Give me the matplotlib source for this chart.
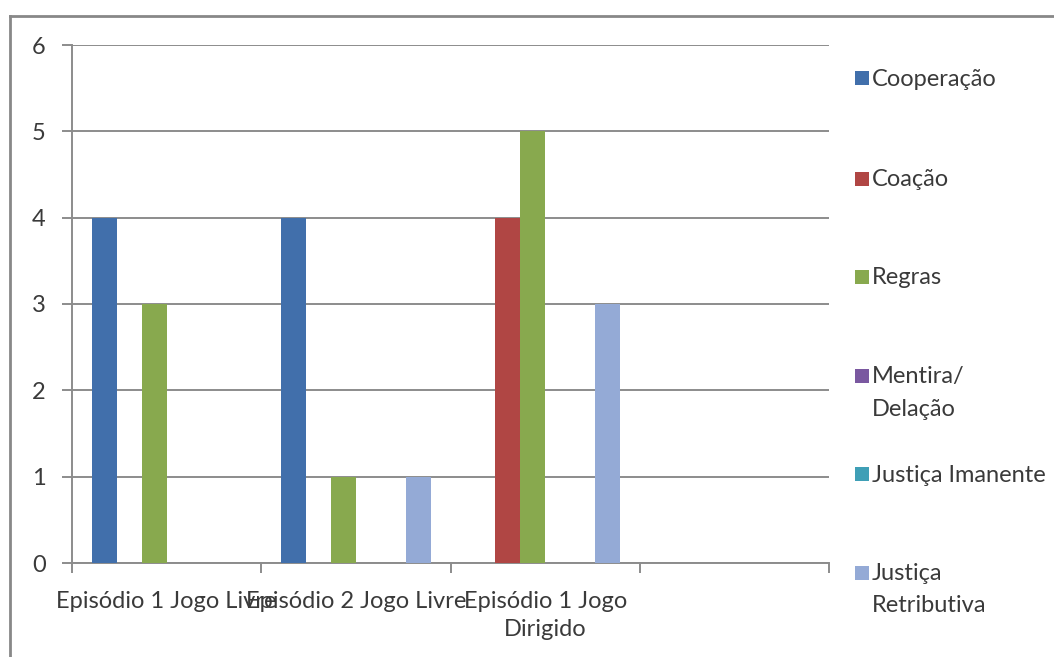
import matplotlib.pyplot as plt
from matplotlib.patches import Rectangle
from matplotlib.lines import Line2D
import numpy as np

plt.rcParams['font.family'] = ['Lato', 'DejaVu Sans']

categories = ["Episódio 1 Jogo Livre", "Episódio 2 Jogo Livre", "Episódio 1 Jogo\nDirigido", ""]
series_names = ["Cooperação", "Coação", "Regras", "Mentira/\nDelação",
                "Justiça Imanente", "Justiça\nRetributiva"]
cooperacao = [4, 4, 0, 0]
coacao = [0, 0, 4, 0]
regras = [3, 1, 5, 0]
mentira = [0, 0, 0, 0]
imanente = [0, 0, 0, 0]
retributiva = [0, 1, 3, 0]
colors = ["#416fab", "#b04644", "#88a94e", "#7a58a0", "#3f9fb6", "#94aad6"]

all_series = [cooperacao, coacao, regras, mentira, imanente, retributiva]
txt_c = "#3a3a3a"

fig = plt.figure(figsize=(10.54, 6.57), dpi=100)
ax = fig.add_axes([72 / 1054, 1 - 563 / 657, (829 - 72) / 1054, (563 - 45) / 657])

grid_c = "#8c8c8c"
bar_w = 0.1315
offset = 0.1055
x0 = np.arange(len(categories))
for j, (vals, c) in enumerate(zip(all_series, colors)):
    ax.bar(x0 + offset + j * bar_w, vals, width=bar_w, align="edge",
           color=c, zorder=3)

ax.set_xlim(0, len(categories))
ax.set_ylim(0, 6)
ax.set_yticks(range(0, 7))
ax.yaxis.grid(True, color=grid_c, lw=1.4, zorder=0)
for s in ["top", "right"]:
    ax.spines[s].set_visible(False)
for s in ["left", "bottom"]:
    ax.spines[s].set_color(grid_c)
    ax.spines[s].set_linewidth(1.4)

ax.set_xticks(range(0, len(categories) + 1))
ax.set_xticklabels([])
ax.set_xticks(x0 + 0.5, minor=True)
ax.set_xticklabels(categories, minor=True, fontsize=17, color=txt_c,
                   linespacing=1.45)
ax.tick_params(axis="x", which="major", length=7, width=1.4, color=grid_c)
ax.tick_params(axis="x", which="minor", length=0, pad=20)
ax.tick_params(axis="y", length=7, width=1.4, color=grid_c, pad=12,
               labelsize=17, labelcolor=txt_c)

# legend drawn by hand on the figure
legend_y = [78, 179, 277, 376, 474, 573]
for name, c, y in zip(series_names, colors, legend_y):
    fig.patches.append(Rectangle((855 / 1054, 1 - (y + 7) / 657), 14 / 1054, 14 / 657,
                                 transform=fig.transFigure, facecolor=c,
                                 edgecolor="none"))
    for k, line in enumerate(name.split("\n")):
        fig.text(872 / 1054, 1 - (y + 1 + 32 * k) / 657, line, fontsize=17,
                 color=txt_c, va="center", ha="left")

# chart border
fig.add_artist(Line2D([10 / 1054, 10 / 1054], [0, 1 - 16 / 657],
                      transform=fig.transFigure, color="#888888", lw=2))
fig.add_artist(Line2D([10 / 1054, 1], [1 - 16 / 657, 1 - 16 / 657],
                      transform=fig.transFigure, color="#888888", lw=2))

fig.savefig("out.png", dpi=100)
